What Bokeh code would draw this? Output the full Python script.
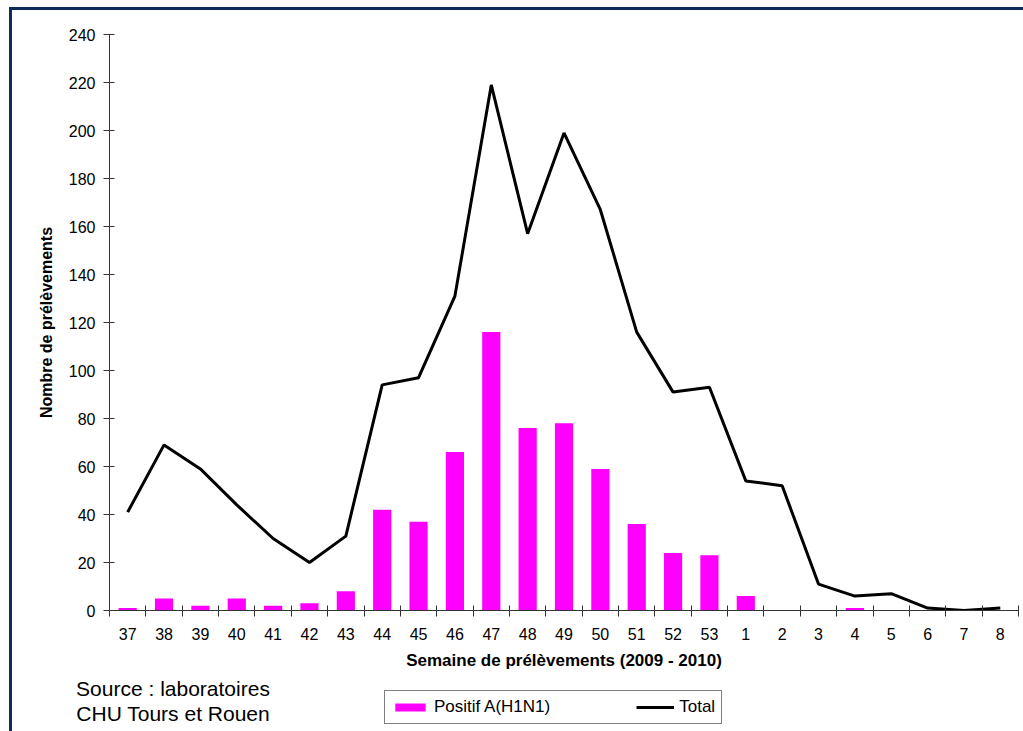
import numpy as np
from bokeh.plotting import figure
from bokeh.layouts import column, row
from bokeh.models import (Range1d, FixedTicker, Legend, LegendItem, Div,
                          ColumnDataSource)
from bokeh.embed import file_html
from bokeh.resources import INLINE

# ---- data ----
weeks = ["37", "38", "39", "40", "41", "42", "43", "44", "45", "46", "47", "48",
         "49", "50", "51", "52", "53", "1", "2", "3", "4", "5", "6", "7", "8"]
positif = [1, 5, 2, 5, 2, 3, 8, 42, 37, 66, 116, 76, 78, 59, 36, 24, 23, 6, 0, 0, 1, 0, 0, 0, 0]
total = [41, 69, 59, 44, 30, 20, 31, 94, 97, 131, 219, 157, 199, 167, 116, 91, 93, 54, 52, 11, 6, 7, 1, 0, 1]
y_ticks = [0, 20, 40, 60, 80, 100, 120, 140, 160, 180, 200, 220, 240]
legend_labels = ["Positif A(H1N1)", "Total"]
source_lines = ["Source : laboratoires", "CHU Tours et Rouen"]

FONT = "Liberation Sans"
NAVY = "#0c2d5a"
MAGENTA = "#ff00ff"
AXIS = "#333333"
W = 1011
LEFT, RIGHT = 97, 5
H1, H2 = 666, 55
DIV_W = 322

centers = [i + 0.5 for i in range(len(weeks))]
bounds = [i for i in range(len(weeks) + 1)]
src = ColumnDataSource(dict(x=centers, week=weeks, pos=positif, tot=total))

# ---------------- main chart ----------------
p = figure(width=W, height=H1, output_backend="svg", toolbar_location=None,
           x_range=Range1d(0, len(weeks)), y_range=Range1d(0, 240),
           min_border_left=LEFT, min_border_right=RIGHT, min_border_top=24,
           min_border_bottom=H1 - 24 - 576)
p.outline_line_color = None
p.xgrid.visible = False
p.ygrid.visible = False
p.background_fill_color = "white"
p.border_fill_color = "white"

p.vbar(x="x", top="pos", width=0.5, source=src, fill_color=MAGENTA, line_color=None)
p.line(x="x", y="tot", source=src, line_color="black", line_width=3)

xa = p.xaxis[0]
xa.ticker = FixedTicker(ticks=centers, minor_ticks=bounds)
xa.major_label_overrides = {c: w for c, w in zip(centers, weeks)}
xa.major_tick_in = 0
xa.major_tick_out = 0
xa.minor_tick_in = 5
xa.minor_tick_out = 6
xa.minor_tick_line_color = AXIS
xa.axis_line_color = AXIS
xa.major_label_text_font = FONT
xa.major_label_text_font_size = "16px"
xa.major_label_text_color = "black"
xa.major_label_standoff = 11
xa.axis_label = "Semaine de prélèvements (2009 - 2010)"
xa.axis_label_text_font = FONT
xa.axis_label_text_font_size = "17px"
xa.axis_label_text_font_style = "bold"
xa.axis_label_text_color = "black"
xa.axis_label_standoff = 8

ya = p.yaxis[0]
ya.ticker = FixedTicker(ticks=y_ticks)
ya.minor_tick_line_color = None
ya.major_tick_in = 5
ya.major_tick_out = 6
ya.major_tick_line_color = AXIS
ya.axis_line_color = AXIS
ya.major_label_text_font = FONT
ya.major_label_text_font_size = "16px"
ya.major_label_text_color = "black"
ya.major_label_standoff = 8
ya.axis_label = "Nombre de prélèvements"
ya.axis_label_text_font = FONT
ya.axis_label_text_font_size = "16px"
ya.axis_label_text_font_style = "bold"
ya.axis_label_text_color = "black"
ya.axis_label_standoff = 11

# ---------------- bottom strip: source note (Div) + legend (p2) ----------------
note = Div(text="<br>".join(source_lines), width=DIV_W, height=H2, margin=0,
           styles={"font-family": FONT, "font-size": "21px", "line-height": "25px",
                   "text-align": "center", "color": "black"})

p2 = figure(width=W - DIV_W, height=H2, output_backend="svg", toolbar_location=None,
            x_range=Range1d(0, W - DIV_W), y_range=Range1d(H2, 0),
            min_border=0, min_border_left=0, min_border_right=0,
            min_border_top=0, min_border_bottom=0)
p2.axis.visible = False
p2.grid.visible = False
p2.outline_line_color = None
p2.background_fill_color = "white"
p2.border_fill_color = "white"

# legend proxies (same data, hidden) so the legend can draw their glyphs
lb = p2.vbar(x="x", top="pos", width=0.5, source=src, fill_color=MAGENTA,
             line_color=None, visible=False)
ll = p2.line(x="x", y="tot", source=src, line_color="black", line_width=3,
             visible=False)

legend = Legend(items=[LegendItem(label=legend_labels[0], renderers=[lb]),
                       LegendItem(label=legend_labels[1], renderers=[ll])],
                orientation="horizontal", location=(50, 7),
                glyph_width=38, glyph_height=10, label_height=18,
                label_standoff=5, spacing=86, padding=6, margin=0,
                inactive_fill_alpha=0.0,
                label_text_font=FONT, label_text_font_size="17px",
                label_text_color="black", border_line_color="black",
                border_line_width=1, background_fill_color="white",
                background_fill_alpha=1.0)
p2.add_layout(legend, "center")

layout = column(p, row(note, p2, spacing=0), spacing=0,
                styles={"margin-left": "9px", "margin-top": "7px",
                        "border-left": f"3px solid {NAVY}",
                        "border-top": f"3px solid {NAVY}"})

open("out.html", "w").write(file_html(layout, INLINE))
